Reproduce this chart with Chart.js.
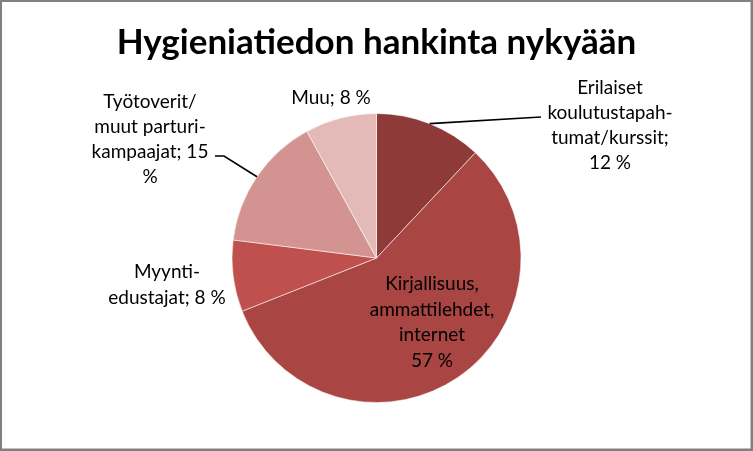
<!DOCTYPE html>
<html>
<head>
<meta charset="utf-8">
<script src="https://cdn.jsdelivr.net/npm/chart.js@4"></script>
<style>
html,body{margin:0;padding:0;background:#fff;}
canvas{display:block;}
</style>
</head>
<body>
<canvas id="c" width="753" height="451"></canvas>
<script>
const chartTitle = 'Hygieniatiedon hankinta nykyään';
const categories = [
  'Erilaiset koulutustapahtumat/kurssit',
  'Kirjallisuus, ammattilehdet, internet',
  'Myynti-edustajat',
  'Työtoverit/muut parturi-kampaajat',
  'Muu'
];
const values = [12, 57, 8, 15, 8];
const labelLines = [
  ['Erilaiset', 'koulutustapah-', 'tumat/kurssit;', '12 %'],
  ['Kirjallisuus,', 'ammattilehdet,', 'internet', '57 %'],
  ['Myynti-', 'edustajat; 8 %'],
  ['Työtoverit/', 'muut parturi-', 'kampaajat; 15', '%'],
  ['Muu; 8 %']
];
const colors = ['#8D3A38', '#A94542', '#C0504D', '#D39391', '#E4BAB9'];

// label layout (text anchor centre, first line y, spacing) and leader elbows
const labelLayout = [
  {x: 610, y: 88, dy: 25, leader: [[541, 117]]},
  {x: 432, y: 284, dy: 25.5},
  {x: 167, y: 272, dy: 26},
  {x: 150, y: 102, dy: 25, leader: [[224, 156], [215, 156]]},
  {x: 331, y: 98, dy: 25}
];

const bgPlugin = {
  id: 'bg',
  beforeDraw(chart) {
    const ctx = chart.ctx;
    ctx.save();
    ctx.fillStyle = '#808080';
    ctx.fillRect(0, 0, chart.width, chart.height);
    ctx.fillStyle = '#ffffff';
    ctx.fillRect(2, 2, chart.width - 4.5, chart.height - 4.5);
    ctx.restore();
  }
};

const labelPlugin = {
  id: 'pieLabels',
  afterDatasetsDraw(chart) {
    const ctx = chart.ctx;
    const meta = chart.getDatasetMeta(0);
    ctx.save();
    meta.data.forEach((arc, i) => {
      const p = arc.getProps(['x', 'y', 'startAngle', 'endAngle', 'outerRadius'], true);
      const lay = labelLayout[i];
      if (lay.leader) {
        const mid = (p.startAngle + p.endAngle) / 2;
        const sx = p.x + Math.cos(mid) * p.outerRadius;
        const sy = p.y + Math.sin(mid) * p.outerRadius;
        ctx.beginPath();
        ctx.moveTo(sx, sy);
        lay.leader.forEach(pt => ctx.lineTo(pt[0], pt[1]));
        ctx.strokeStyle = '#000';
        ctx.lineWidth = 1.6;
        ctx.stroke();
      }
      ctx.fillStyle = '#000';
      ctx.font = '19px Lato';
      ctx.textAlign = 'center';
      ctx.textBaseline = 'middle';
      labelLines[i].forEach((t, k) => {
        ctx.fillText(t, lay.x, lay.y + k * lay.dy);
      });
    });
    ctx.restore();
  }
};

new Chart(document.getElementById('c'), {
  type: 'pie',
  data: {
    labels: categories,
    datasets: [{
      data: values,
      backgroundColor: colors,
      borderColor: 'rgba(255,255,255,0.55)',
      borderWidth: 1
    }]
  },
  options: {
    responsive: false,
    animation: false,
    devicePixelRatio: 1,
    layout: {padding: {top: 0, bottom: 48, left: 0, right: 0}},
    plugins: {
      legend: {display: false},
      tooltip: {enabled: false},
      title: {
        display: true,
        text: chartTitle,
        color: '#000',
        font: {family: 'Lato', size: 35, weight: 'bold', lineHeight: 1.2},
        padding: {top: 21.5, bottom: 49.5}
      }
    }
  },
  plugins: [bgPlugin, labelPlugin]
});
</script>
</body>
</html>
